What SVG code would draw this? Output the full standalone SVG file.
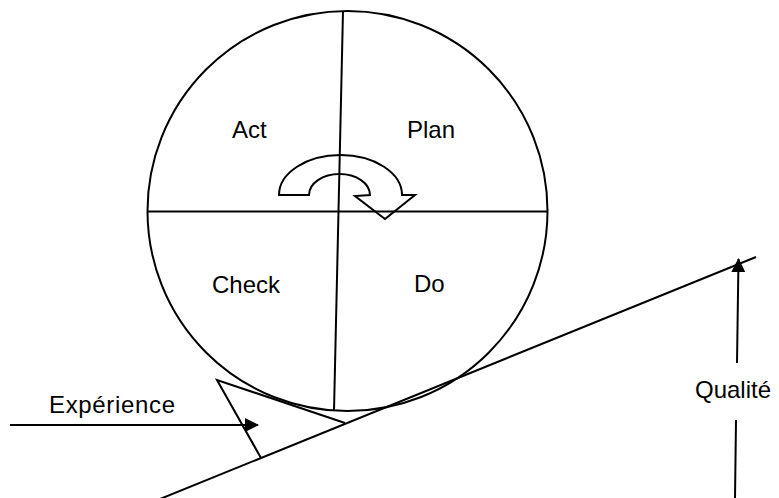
<svg xmlns="http://www.w3.org/2000/svg" width="779" height="498" viewBox="0 0 779 498">
<defs>
<style>
.ln{fill:none;stroke:#000;stroke-width:2;stroke-linejoin:miter}
.lbl{font-family:"Liberation Sans",Arial,sans-serif;font-size:24px;fill:#000}
</style>
<marker id="ah" viewBox="0 0 14 14" refX="13" refY="7" markerWidth="14" markerHeight="14" markerUnits="userSpaceOnUse" orient="auto">
<path d="M0,0 L14,7 L0,14 Z" fill="#000"/>
</marker>
</defs>
<rect width="779" height="498" fill="#fff"/>
<g id="wheel">
<circle class="ln" cx="347.5" cy="211" r="200"/>
<line class="ln" x1="343" y1="11" x2="334" y2="411"/>
</g>
<g id="cycle-arrow">
<path class="ln" fill="#fff" d="M279,195 A61.5,40 0 0 1 402,195 L415,195 L385,219 L355,196 L370,195 A30.5,21 0 0 0 309,195 Z"/>
</g>
<g id="wheel-axis">
<line class="ln" x1="148" y1="211.5" x2="547" y2="211.5"/>
</g>
<g id="slope">
<line class="ln" x1="160" y1="499" x2="756" y2="257"/>
</g>
<g id="wedge">
<polyline class="ln" points="261,458 217,380 345,423"/>
</g>
<g id="act"><text class="lbl" x="232" y="138">Act</text></g>
<g id="plan"><text class="lbl" x="407" y="138">Plan</text></g>
<g id="check"><text class="lbl" x="212" y="293">Check</text></g>
<g id="do"><text class="lbl" x="414" y="292">Do</text></g>
<g id="experience"><text class="lbl" x="49" y="413" textLength="126">Expérience</text></g>
<g id="qualite"><text class="lbl" x="695" y="398">Qualité</text></g>
<g id="connectors">
<line class="ln" x1="10" y1="425" x2="258" y2="425" marker-end="url(#ah)"/>
<line class="ln" x1="737" y1="363" x2="738.5" y2="259" marker-end="url(#ah)"/>
<line class="ln" x1="735" y1="498" x2="736" y2="420"/>
</g>
</svg>
